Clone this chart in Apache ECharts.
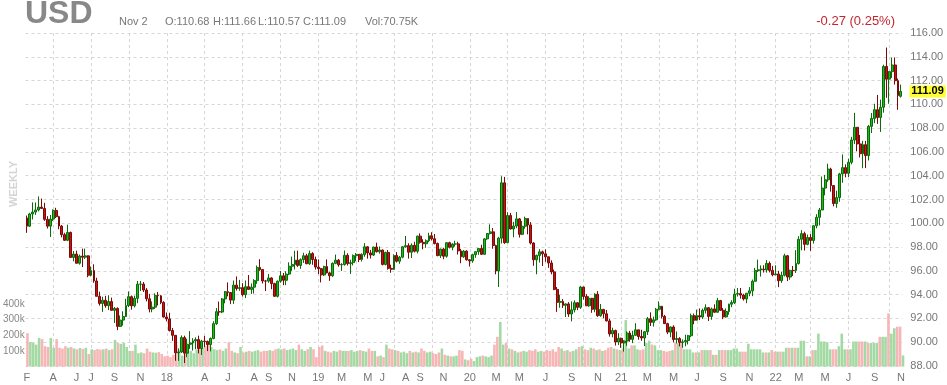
<!DOCTYPE html>
<html><head><meta charset="utf-8">
<script src="https://cdn.jsdelivr.net/npm/echarts@6/dist/echarts.min.js"></script>
<style>html,body{margin:0;padding:0;background:#fff}#c{width:947px;height:385px}</style>
</head><body><div id="c"></div>
<script>
// Weekly candles, first week starting 2017-01-30
const firstWeek = '2017-01-30';
const opens = [
100.45,99.76,100.78,100.94,101.12,101.36,101.25,100.33,99.76,100.35,
101.08,100.56,99.77,99.04,98.57,99.23,97.13,97.41,96.64,97.24,
97.15,97.26,95.63,96.02,95.15,93.86,93.26,93.53,93.07,93.42,
92.68,92.84,91.33,91.86,92.16,93.08,93.83,93.06,93.69,94.88,
94.89,94.39,93.65,92.79,92.95,93.94,93.90,93.34,92.12,91.96,
90.98,90.58,89.11,89.18,90.39,89.08,89.83,89.94,90.11,90.22,
89.47,90.09,90.06,89.80,90.31,91.56,92.57,92.54,93.64,94.25,
94.18,93.54,94.80,94.52,94.59,94.00,94.67,94.44,94.63,95.18,
96.29,96.11,95.15,95.14,95.40,94.93,93.86,95.13,95.58,95.21,
95.73,96.39,96.54,96.90,96.46,96.94,97.27,96.60,97.45,96.95,
96.32,96.18,95.66,96.36,95.83,95.59,96.63,96.90,96.51,96.53,
97.31,96.61,96.69,97.28,97.39,96.96,97.37,98.02,97.51,97.33,
98.00,97.61,97.75,96.54,97.55,96.21,96.13,97.29,96.81,97.15,
98.02,98.12,97.57,98.15,97.65,98.92,98.40,98.28,98.53,98.95,
98.70,98.30,97.28,97.83,97.23,98.37,97.98,98.25,98.27,97.68,
97.18,97.66,96.93,96.84,97.36,97.61,97.88,97.39,98.69,99.14,
99.28,98.13,95.99,98.75,103.40,98.37,100.65,99.52,99.77,100.37,
99.07,99.75,100.40,99.86,98.34,96.93,97.30,97.60,97.43,97.18,
96.66,95.91,94.44,93.35,93.43,93.10,93.22,92.37,92.72,93.32,
92.93,94.64,93.85,93.06,93.69,92.77,94.04,92.23,92.76,92.39,
91.79,90.70,90.98,90.02,90.33,89.94,90.10,90.77,90.24,90.58,
91.04,90.48,90.36,90.88,91.98,91.67,91.88,92.77,93.02,92.17,
91.56,90.85,91.28,90.23,90.31,89.98,90.03,90.14,90.55,92.23,
91.85,92.23,92.12,92.68,92.90,92.17,92.80,92.52,93.50,92.68,
92.13,92.58,93.20,93.33,94.04,94.09,93.96,93.64,94.12,94.32,
95.13,96.03,96.09,96.15,96.08,96.63,96.04,95.67,95.74,95.17,
95.63,97.27,95.48,96.04,96.03,96.62,98.66,99.13,98.23,98.80,
98.56,99.79,100.50,101.12,102.96,103.66,104.56,103.17,101.66,102.16,
104.15,104.68,104.20,105.13,107.00,108.07,106.67,105.85,106.61,105.69,
108.15,108.82,109.55,108.90,109.76,113.19,112.12,112.75,113.31,111.99,
110.68];
const closes = [
99.76,100.78,100.94,101.12,101.36,101.25,100.33,99.76,100.35,101.08,
100.56,99.77,99.04,98.57,99.23,97.13,97.41,96.64,97.24,97.15,
97.26,95.63,96.02,95.15,93.86,93.26,93.53,93.07,93.42,92.68,
92.84,91.33,91.86,92.16,93.08,93.83,93.06,93.69,94.88,94.89,
94.39,93.65,92.79,92.95,93.94,93.90,93.34,92.12,91.96,90.98,
90.58,89.11,89.18,90.39,89.08,89.83,89.94,90.11,90.22,89.47,
90.09,90.06,89.80,90.31,91.56,92.57,92.54,93.64,94.25,94.18,
93.54,94.80,94.52,94.59,94.00,94.67,94.44,94.63,95.18,96.29,
96.11,95.15,95.14,95.40,94.93,93.86,95.13,95.58,95.21,95.73,
96.39,96.54,96.90,96.46,96.94,97.27,96.60,97.45,96.95,96.32,
96.18,95.66,96.36,95.83,95.59,96.63,96.90,96.51,96.53,97.31,
96.61,96.69,97.28,97.39,96.96,97.37,98.02,97.51,97.33,98.00,
97.61,97.75,96.54,97.55,96.21,96.13,97.29,96.81,97.15,98.02,
98.12,97.57,98.15,97.65,98.92,98.40,98.28,98.53,98.95,98.70,
98.30,97.28,97.83,97.23,98.37,97.98,98.25,98.27,97.68,97.18,
97.66,96.93,96.84,97.36,97.61,97.88,97.39,98.69,99.14,99.28,
98.13,95.99,98.75,103.40,98.37,100.65,99.52,99.77,100.37,99.07,
99.75,100.40,99.86,98.34,96.93,97.30,97.60,97.43,97.18,96.66,
95.91,94.44,93.35,93.43,93.10,93.22,92.37,92.72,93.32,92.93,
94.64,93.85,93.06,93.69,92.77,94.04,92.23,92.76,92.39,91.79,
90.70,90.98,90.02,90.33,89.94,90.10,90.77,90.24,90.58,91.04,
90.48,90.36,90.88,91.98,91.67,91.88,92.77,93.02,92.17,91.56,
90.85,91.28,90.23,90.31,89.98,90.03,90.14,90.55,92.23,91.85,
92.23,92.12,92.68,92.90,92.17,92.80,92.52,93.50,92.68,92.13,
92.58,93.20,93.33,94.04,94.09,93.96,93.64,94.12,94.32,95.13,
96.03,96.09,96.15,96.08,96.63,96.04,95.67,95.74,95.17,95.63,
97.27,95.48,96.04,96.03,96.62,98.66,99.13,98.23,98.80,98.56,
99.79,100.50,101.12,102.96,103.66,104.56,103.17,101.66,102.16,104.15,
104.68,104.20,105.13,107.00,108.07,106.67,105.85,106.61,105.69,108.15,
108.82,109.55,108.90,109.76,113.19,112.12,112.75,113.31,111.99,110.75,
111.09];
const highs = [
100.65,100.88,101.76,101.75,102.26,102.08,101.72,100.60,100.70,101.17,
101.30,100.63,99.85,99.20,99.88,99.30,97.67,97.70,97.37,97.87,
97.87,97.30,96.37,96.55,95.42,94.25,93.82,93.90,93.95,93.75,
92.96,92.93,92.25,92.60,93.65,94.27,93.93,93.91,95.15,95.15,
95.06,94.55,94.07,93.43,94.11,94.22,93.96,93.45,92.50,92.48,
91.20,90.60,89.48,90.57,90.55,90.29,90.93,90.34,90.41,90.55,
90.20,90.53,90.14,90.40,91.76,92.87,93.42,93.72,94.30,95.03,
94.21,95.19,95.53,95.24,94.97,95.19,95.65,94.94,95.30,96.45,
96.98,96.11,95.24,95.74,95.47,95.00,95.19,95.99,95.82,95.97,
96.72,97.20,97.69,97.70,97.05,97.52,97.43,97.71,97.57,97.20,
96.96,96.25,96.43,96.96,95.94,96.71,97.37,97.00,96.65,97.71,
97.48,96.94,97.38,97.50,97.41,97.48,98.33,98.08,97.76,98.03,
98.37,98.05,97.79,97.61,97.75,96.52,97.39,97.58,97.25,98.08,
98.93,98.32,98.31,98.45,98.96,99.15,98.66,98.65,99.20,99.25,
99.10,98.38,97.87,97.94,98.39,98.45,98.33,98.53,98.45,97.85,
97.74,97.74,96.99,97.44,97.64,97.89,98.19,98.74,99.15,99.91,
99.60,98.20,98.86,103.96,103.90,100.93,100.87,100.12,100.94,100.44,
100.20,100.56,100.40,100.10,98.41,97.36,97.83,97.70,97.80,97.19,
96.89,96.11,94.64,93.99,93.63,93.27,93.37,93.43,93.52,93.34,
94.74,94.67,94.04,93.86,93.73,94.12,94.30,93.21,92.80,92.71,
91.96,91.22,91.06,90.76,90.39,90.17,90.92,90.95,90.96,91.60,
91.05,91.05,90.94,92.12,92.51,92.15,92.88,93.44,93.05,92.30,
91.64,91.32,91.43,90.90,90.42,90.23,90.63,90.62,92.41,92.41,
92.74,92.84,92.83,93.19,92.96,92.92,93.19,93.73,93.56,92.88,
92.84,93.24,93.53,94.50,94.56,94.56,94.07,94.13,94.63,95.27,
96.25,96.94,96.46,96.47,96.91,96.79,96.42,96.46,96.00,95.92,
97.44,97.34,96.10,96.41,97.74,98.92,99.42,99.29,99.05,99.10,
99.84,100.76,101.29,103.93,104.07,105.01,104.67,103.22,102.74,104.24,
105.79,104.95,105.44,107.27,109.29,108.10,107.43,106.93,106.93,108.27,
109.27,110.05,110.79,110.40,113.33,114.78,112.79,113.92,113.94,112.17,
111.66];
const lows = [
99.20,99.70,100.32,100.70,101.00,101.25,100.20,99.56,98.85,100.20,
100.44,99.50,98.82,98.51,98.50,97.09,96.80,96.62,96.52,96.32,
97.00,95.47,95.53,95.00,93.86,93.08,92.55,92.90,92.70,92.68,
91.62,91.01,91.28,91.40,92.12,92.95,92.74,92.92,93.28,94.31,
94.22,93.43,92.51,92.52,92.80,93.09,93.20,92.07,91.75,90.90,
90.11,88.44,88.43,89.09,88.25,88.74,89.44,89.30,89.42,89.06,
88.92,89.58,89.25,89.23,90.25,91.46,92.22,92.44,93.27,93.86,
93.20,93.22,94.34,94.32,93.84,93.71,94.41,94.06,94.09,94.91,
96.00,94.94,94.30,95.00,94.45,93.81,93.76,95.00,94.79,94.80,
95.64,96.00,96.12,96.33,96.17,96.67,96.56,96.50,96.51,96.11,
95.73,95.03,95.56,95.79,95.16,95.49,96.56,96.35,95.99,96.44,
96.45,95.74,96.46,96.80,96.74,96.78,97.19,97.03,97.04,97.25,
97.54,97.45,96.46,96.46,96.10,95.84,96.09,96.70,96.59,97.06,
97.95,97.03,97.08,97.55,97.47,98.29,97.81,97.94,98.41,98.55,
98.22,97.23,97.08,96.98,97.11,97.89,97.73,98.04,97.37,96.64,
97.09,96.86,96.36,96.68,97.10,97.35,97.34,97.36,98.61,99.06,
97.86,95.71,94.65,98.30,98.27,98.37,99.48,98.82,99.59,98.80,
99.00,99.55,99.07,98.22,96.43,95.71,96.70,96.41,96.76,96.25,
95.71,94.37,92.55,92.90,92.88,92.12,92.13,91.75,92.50,92.70,
92.80,93.58,93.04,92.98,92.47,92.52,92.13,92.14,92.02,91.76,
90.47,90.41,89.72,89.76,89.53,89.21,89.69,90.04,89.92,90.55,
90.21,90.12,89.68,90.61,91.36,91.31,91.80,92.67,92.00,91.54,
90.68,90.42,89.98,89.90,89.65,89.53,89.66,89.81,90.43,91.51,
91.81,91.86,91.95,92.42,91.78,91.89,92.47,92.48,92.70,91.94,
92.06,92.31,92.95,93.21,93.84,93.67,93.50,93.28,93.87,93.87,
95.09,95.90,95.52,95.86,95.85,95.87,95.54,95.63,94.63,94.99,
95.53,95.14,95.25,95.57,95.82,96.53,97.73,97.71,98.15,97.68,
98.30,99.58,99.82,101.10,102.35,103.49,102.66,101.43,101.30,101.81,
103.41,103.86,103.89,104.96,106.67,106.05,105.54,104.63,104.64,105.28,
107.59,108.42,108.36,107.68,109.30,110.55,110.05,112.22,111.66,109.54,
110.57];
// weekly volume, thousands
const volumes = [
213,157,150,140,183,175,130,125,183,120,
175,120,115,130,120,125,115,110,118,112,
120,80,110,105,112,108,110,115,105,110,
170,150,145,150,125,100,100,140,85,90,
85,115,95,90,88,92,80,65,70,60,
75,140,105,70,110,95,100,85,110,115,
120,130,140,125,110,105,110,100,115,155,
100,90,85,125,90,95,100,95,100,105,
95,100,100,105,100,110,115,110,115,105,
110,115,105,140,110,100,110,125,110,60,
125,135,100,95,90,100,95,105,100,100,
100,105,95,100,105,100,95,115,100,100,
65,70,60,140,115,110,105,100,90,95,
85,100,90,95,90,115,100,90,95,85,
80,90,115,75,70,65,65,70,105,100,
45,40,50,35,60,65,70,65,60,70,
140,190,285,140,150,115,110,100,90,95,
100,95,105,100,110,95,100,95,105,100,
110,95,125,115,100,105,95,100,110,125,
130,110,105,120,115,105,110,100,105,120,
125,115,110,105,115,297,115,135,135,110,
105,110,150,165,140,135,105,105,100,95,
100,105,150,150,150,110,110,110,90,90,
90,105,105,105,105,75,75,105,105,105,
105,105,115,115,95,95,95,145,110,110,
110,110,90,90,90,105,95,95,95,95,
120,120,120,120,120,165,165,65,65,105,
105,210,160,160,155,110,110,110,130,210,
110,110,110,160,160,160,160,160,150,150,
150,150,190,190,190,340,210,245,255,255,
70.75];
// x tick labels: [week start, text]
const tickLabels = [
['2017-01-30','F'],['2017-04-03','A'],['2017-05-29','J'],['2017-07-03','J'],['2017-08-28','S'],['2017-10-30','N'],
['2018-01-01','18'],['2018-04-02','A'],['2018-05-28','J'],['2018-07-30','A'],['2018-09-03','S'],['2018-10-29','N'],
['2018-12-31','19'],['2019-02-25','M'],['2019-04-29','M'],['2019-06-03','J'],['2019-07-29','A'],['2019-09-02','S'],['2019-10-28','N'],
['2019-12-30','20'],['2020-03-02','M'],['2020-04-27','M'],['2020-06-29','J'],['2020-08-31','S'],['2020-11-02','N'],
['2020-12-28','21'],['2021-03-01','M'],['2021-05-03','M'],['2021-06-28','J'],['2021-08-30','S'],['2021-11-01','N'],
['2022-01-03','22'],['2022-02-28','M'],['2022-05-02','M'],['2022-06-27','J'],['2022-08-29','S'],['2022-10-31','N']];
// vertical grid lines: quarter-start weeks
const quarterWeeks = ['2017-04-03','2017-07-03','2017-10-02','2018-01-01','2018-04-02','2018-07-02','2018-10-01',
'2018-12-31','2019-04-01','2019-07-01','2019-09-30','2019-12-30','2020-03-30','2020-06-29','2020-09-28',
'2020-12-28','2021-03-29','2021-06-28','2021-09-27','2022-01-03','2022-03-28','2022-06-27','2022-10-03'];
const priceMin = 88, priceMax = 116, priceStep = 2;
const volMax = 400, volStep = 100;

const N = closes.length;
const dates = [];
const t0 = Date.parse(firstWeek + 'T00:00:00Z');
for (let i = 0; i < N; i++) dates.push(new Date(t0 + i * 7 * 86400000).toISOString().slice(0, 10));
const labelMap = {}; tickLabels.forEach(([d, t]) => labelMap[d] = t);
const qSet = new Set(quarterWeeks);
const candleData = closes.map((c, i) => [opens[i], c, lows[i], highs[i]]);
const UPV = '#a3d9a3', DNV = '#f6b6b6';
const volData = volumes.map((v, i) => ({ value: v, itemStyle: { color: closes[i] >= opens[i] ? UPV : DNV } }));
const last = closes[N - 1];
const FONT = 'Arial, "Liberation Sans", sans-serif';
const gridLine = { show: true, lineStyle: { color: '#d6d6d6', type: [3, 3], width: 1 } };

const chart = echarts.init(document.getElementById('c'), null, { renderer: 'canvas' });
chart.setOption({
  animation: false,
  backgroundColor: '#fff',
  textStyle: { fontFamily: FONT },
  grid: [
    { left: 25.5, width: 879, top: 33, height: 333 },
    { left: 25.5, width: 879, top: 304, height: 62.5 }
  ],
  xAxis: [
    { type: 'category', gridIndex: 0, data: dates, boundaryGap: true,
      axisLine: { show: false }, axisTick: { show: false },
      axisLabel: { interval: (i, v) => labelMap[v] !== undefined, formatter: v => labelMap[v] || '',
        color: '#777', fontSize: 11, margin: 6, fontFamily: FONT },
      splitLine: Object.assign({ interval: (i, v) => qSet.has(v), alignWithLabel: true }, gridLine) },
    { type: 'category', gridIndex: 1, data: dates, boundaryGap: true,
      axisLine: { show: false }, axisTick: { show: false }, axisLabel: { show: false }, splitLine: { show: false } }
  ],
  yAxis: [
    { type: 'value', gridIndex: 0, position: 'right', min: priceMin, max: priceMax, interval: priceStep,
      axisLine: { show: false }, axisTick: { show: false },
      axisLabel: { formatter: v => v.toFixed(2), color: '#777', fontSize: 11, margin: 8, fontFamily: FONT },
      splitLine: gridLine },
    { type: 'value', gridIndex: 1, position: 'left', min: 0, max: volMax, interval: volStep,
      axisLine: { show: false }, axisTick: { show: false }, splitLine: { show: false },
      axisLabel: { formatter: v => v === 0 ? '' : v + 'k', color: '#888', fontSize: 10, align: 'left', margin: 23, fontFamily: FONT } }
  ],
  series: [
    { type: 'bar', xAxisIndex: 1, yAxisIndex: 1, data: volData, barCategoryGap: '12%', z: 1, silent: true },
    { type: 'candlestick', xAxisIndex: 0, yAxisIndex: 0, data: candleData, barWidth: 2.4, z: 3, silent: true,
      itemStyle: { color: '#1cb81c', color0: '#cc1111', borderColor: '#0b6b0b', borderColor0: '#7a0a0a', borderWidth: 1 },
      markLine: { silent: true, symbol: ['none', 'none'], animation: false,
        data: [{ yAxis: last }], lineStyle: { color: 'rgba(0,0,0,0)', width: 0.01 },
        label: { show: true, position: 'end', formatter: () => last.toFixed(2), backgroundColor: '#ffff33',
          color: '#000', fontWeight: 'bold', fontSize: 11, padding: [1, 2, 0, 2], distance: 7, fontFamily: FONT } } }
  ],
  graphic: [
    { type: 'text', x: 25, y: 14, style: { text: 'USD', fill: '#888', font: 'bold 32px ' + FONT, align: 'left', verticalAlign: 'middle' } },
    { type: 'text', x: 119, y: 22, style: { text: 'Nov 2', fill: '#777', font: '11px ' + FONT, verticalAlign: 'middle' } },
    { type: 'text', x: 165, y: 22, style: { text: 'O:110.68', fill: '#777', font: '11px ' + FONT, verticalAlign: 'middle' } },
    { type: 'text', x: 213, y: 22, style: { text: 'H:111.66', fill: '#777', font: '11px ' + FONT, verticalAlign: 'middle' } },
    { type: 'text', x: 258, y: 22, style: { text: 'L:110.57', fill: '#777', font: '11px ' + FONT, verticalAlign: 'middle' } },
    { type: 'text', x: 303, y: 22, style: { text: 'C:111.09', fill: '#777', font: '11px ' + FONT, verticalAlign: 'middle' } },
    { type: 'text', x: 365, y: 22, style: { text: 'Vol:70.75K', fill: '#777', font: '11px ' + FONT, verticalAlign: 'middle' } },
    { type: 'text', x: 895, y: 21, style: { text: '-0.27 (0.25%)', fill: '#c4262e', font: '13px ' + FONT, align: 'right', verticalAlign: 'middle' } },
    { type: 'text', x: 14, y: 184, rotation: Math.PI / 2, style: { text: 'WEEKLY', fill: '#d4d4d4', font: 'bold 11px ' + FONT, align: 'center', verticalAlign: 'middle' } }
  ]
});
</script></body></html>
